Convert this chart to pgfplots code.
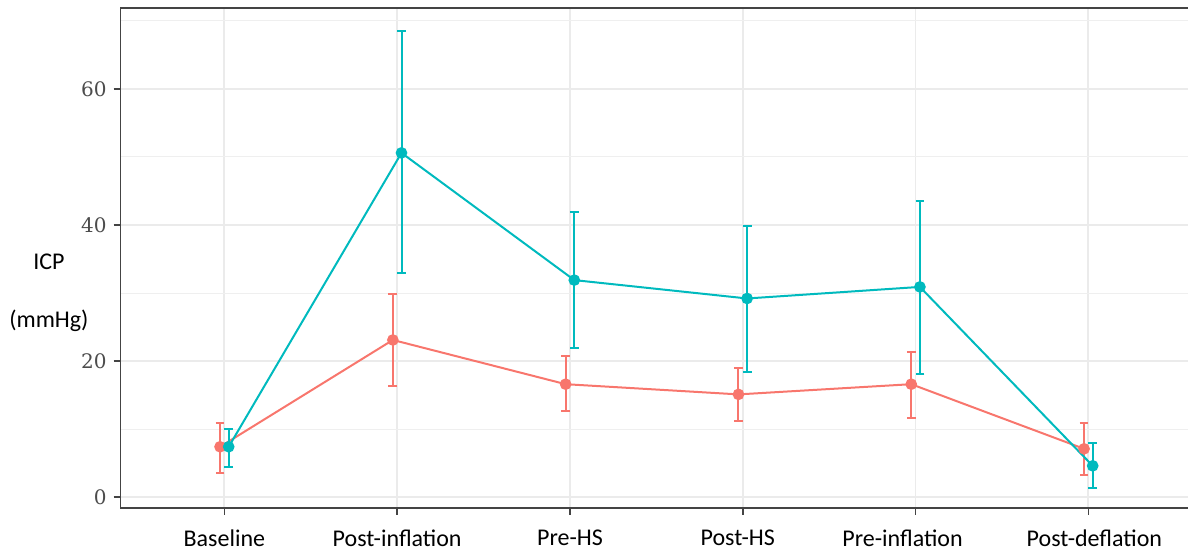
\documentclass[border=0pt]{standalone}
\usepackage{pgfplots}
\usepackage{pgfplotstable}
\pgfplotsset{compat=1.18}
\usepackage{fontspec}
\setmainfont{Carlito}
\newfontfamily\tickfont{DejaVu Serif}
\definecolor{cred}{HTML}{F8766D}
\definecolor{cteal}{HTML}{00BABE}
\definecolor{gridc}{HTML}{EBEBEB}
\definecolor{axc}{HTML}{444444}

\pgfplotstableread{
x y ep em
-0.025 7.4 3.5 3.8
0.975 23.1 6.7 6.8
1.975 16.6 4.1 4.0
2.975 15.1 3.9 3.9
3.975 16.6 4.8 4.9
4.975 7.1 3.8 3.8
}\redtab

\pgfplotstableread{
x y ep em
0.025 7.4 2.6 3.0
1.025 50.6 17.9 17.7
2.025 31.9 10.0 10.0
3.025 29.2 10.7 10.8
4.025 30.9 12.7 12.8
5.025 4.6 3.3 3.2
}\tealtab

\begin{document}
\begin{tikzpicture}
\useasboundingbox (-60.35pt,-24pt) rectangle (533.65pt,254pt);
\begin{axis}[
  at={(0,0)}, anchor=south west,
  scale only axis, width=540pt, height=250pt,
  xmin=-0.6, xmax=5.65, ymin=-1.6, ymax=71.9,
  xtick={0,1,2,3,4,5},
  xticklabels={Baseline, Post-inflation, Pre-HS, \hspace*{-5pt}Post-HS, \hspace*{-13pt}Pre-inflation, \hspace*{6pt}Post-deflation},
  ytick={0,20,40,60},
  minor ytick={10,30,50,70},
  xtick pos=bottom, ytick pos=left,
  grid=both,
  major grid style={color=gridc, line width=0.9pt},
  minor grid style={color=gridc!80, line width=0.5pt},
  axis line style={color=axc, line width=0.8pt},
  tick align=outside,
  major tick length=3.5pt, minor tick length=0pt,
  tick style={color=axc, line width=0.8pt},
  /pgf/number format/assume math mode=true,
  xticklabel style={font=\fontsize{12}{14}\selectfont, text=black, yshift=-4pt},
  yticklabel style={font=\tickfont\fontsize{10}{12}\selectfont, text=black!70},
  clip=false,
]
\addplot[cred, line width=1pt, mark=*, mark size=2.4pt, mark options={solid, fill=cred, draw=cred},
  error bars/.cd, y dir=both, y explicit,
  error bar style={line width=1pt, cred},
  error mark options={rotate=90, mark size=2.2pt, line width=1pt, cred}]
  table[x=x, y=y, y error plus=ep, y error minus=em] {\redtab};
\addplot[cteal, line width=1pt, mark=*, mark size=2.4pt, mark options={solid, fill=cteal, draw=cteal},
  error bars/.cd, y dir=both, y explicit,
  error bar style={line width=1pt, cteal},
  error mark options={rotate=90, mark size=2.2pt, line width=1pt, cteal}]
  table[x=x, y=y, y error plus=ep, y error minus=em] {\tealtab};
\end{axis}
\node[font=\fontsize{12}{14}\selectfont] at (-35.9pt,123pt) {ICP};
\node[font=\fontsize{12}{14}\selectfont] at (-35.9pt,93.5pt) {(mmHg)};
\end{tikzpicture}
\end{document}
